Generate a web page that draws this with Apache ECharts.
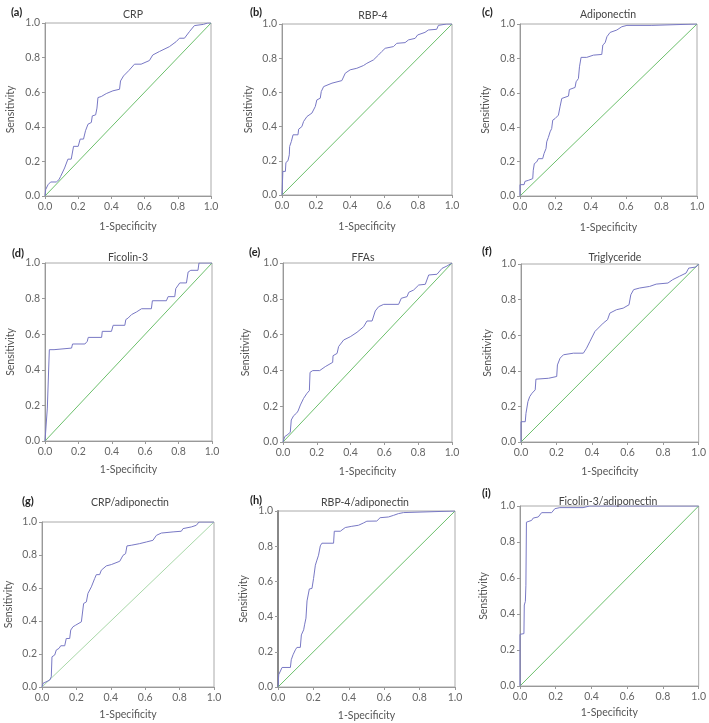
<!DOCTYPE html>
<html><head><meta charset="utf-8">
<script src="https://cdn.jsdelivr.net/npm/echarts@6/dist/echarts.min.js"></script>
<style>html,body{margin:0;padding:0;background:#fff}#c{width:709px;height:723px}</style>
</head><body><div id="c"></div>
<script>
// Panel titles and labels
const panelLabels = ['(a)','(b)','(c)','(d)','(e)','(f)','(g)','(h)','(i)'];
const panelTitles = ['CRP','RBP-4','Adiponectin','Ficolin-3','FFAs','Triglyceride','CRP/adiponectin','RBP-4/adiponectin','Ficolin-3/adiponectin'];
const axisTicks = [0.0, 0.2, 0.4, 0.6, 0.8, 1.0];
const xName = '1-Specificity';
const yName = 'Sensitivity';

// ROC curves: [1-specificity, sensitivity]
const crpCurve = [[0,0],[0.004,0.037],[0.018,0.065],[0.034,0.081],[0.068,0.081],[0.084,0.094],[0.094,0.113],[0.118,0.162],[0.138,0.213],[0.158,0.213],[0.172,0.287],[0.2,0.287],[0.212,0.329],[0.232,0.329],[0.244,0.377],[0.259,0.415],[0.279,0.425],[0.285,0.463],[0.305,0.469],[0.313,0.508],[0.319,0.569],[0.339,0.575],[0.369,0.592],[0.409,0.608],[0.449,0.617],[0.455,0.665],[0.473,0.694],[0.505,0.725],[0.539,0.762],[0.579,0.762],[0.629,0.783],[0.649,0.815],[0.689,0.835],[0.749,0.863],[0.79,0.892],[0.81,0.912],[0.84,0.912],[0.87,0.95],[0.9,0.985],[0.954,0.992],[0.98,1],[1,1]];
const rbpCurve = [[0,0],[0.005,0.0],[0.005,0.138],[0.02,0.138],[0.023,0.19],[0.035,0.2],[0.043,0.235],[0.045,0.284],[0.055,0.313],[0.065,0.352],[0.094,0.352],[0.098,0.385],[0.117,0.4],[0.127,0.43],[0.147,0.459],[0.176,0.479],[0.196,0.518],[0.205,0.556],[0.225,0.566],[0.231,0.605],[0.245,0.634],[0.254,0.638],[0.294,0.654],[0.352,0.669],[0.372,0.712],[0.401,0.732],[0.44,0.741],[0.479,0.757],[0.499,0.77],[0.538,0.79],[0.568,0.819],[0.587,0.839],[0.607,0.858],[0.656,0.868],[0.675,0.887],[0.724,0.891],[0.744,0.907],[0.783,0.916],[0.798,0.936],[0.841,0.951],[0.861,0.965],[0.91,0.969],[0.92,0.992],[0.969,1],[1,1]];
const adipoCurve = [[0,0],[0,0.066],[0.023,0.066],[0.028,0.085],[0.047,0.091],[0.053,0.101],[0.072,0.101],[0.075,0.15],[0.081,0.188],[0.094,0.198],[0.104,0.217],[0.128,0.217],[0.136,0.247],[0.147,0.276],[0.151,0.315],[0.16,0.34],[0.17,0.373],[0.179,0.392],[0.185,0.441],[0.198,0.45],[0.217,0.47],[0.226,0.518],[0.236,0.567],[0.245,0.577],[0.274,0.581],[0.279,0.619],[0.311,0.631],[0.317,0.664],[0.33,0.683],[0.336,0.751],[0.345,0.806],[0.377,0.806],[0.415,0.819],[0.462,0.823],[0.468,0.878],[0.481,0.891],[0.491,0.926],[0.509,0.951],[0.547,0.965],[0.575,0.984],[0.604,0.992],[0.745,0.992],[0.747,1],[1,1]];
const ficolinCurve = [[0,0],[0.008,0.0],[0.014,0.185],[0.02,0.185],[0.026,0.513],[0.054,0.513],[0.06,0.522],[0.159,0.522],[0.165,0.545],[0.239,0.545],[0.253,0.56],[0.259,0.582],[0.339,0.582],[0.343,0.616],[0.398,0.616],[0.408,0.65],[0.478,0.65],[0.484,0.682],[0.498,0.691],[0.518,0.71],[0.548,0.725],[0.578,0.743],[0.637,0.743],[0.643,0.788],[0.727,0.788],[0.737,0.811],[0.777,0.811],[0.783,0.856],[0.807,0.888],[0.847,0.888],[0.857,0.949],[0.873,0.959],[0.916,0.959],[0.922,1],[1,1]];
const ffaCurve = [[0,0],[0.01,0.03],[0.024,0.039],[0.034,0.048],[0.043,0.054],[0.049,0.123],[0.063,0.147],[0.079,0.16],[0.089,0.173],[0.103,0.207],[0.122,0.244],[0.142,0.272],[0.156,0.287],[0.16,0.389],[0.176,0.399],[0.217,0.399],[0.25,0.421],[0.294,0.445],[0.296,0.482],[0.32,0.495],[0.329,0.533],[0.359,0.57],[0.398,0.588],[0.438,0.613],[0.477,0.644],[0.497,0.676],[0.527,0.676],[0.546,0.732],[0.566,0.756],[0.596,0.769],[0.684,0.769],[0.7,0.803],[0.734,0.812],[0.744,0.836],[0.773,0.849],[0.803,0.877],[0.842,0.881],[0.862,0.933],[0.911,0.937],[0.941,0.97],[0.97,0.983],[1,1]];
const tgCurve = [[0,0],[0,0.114],[0.024,0.114],[0.028,0.161],[0.037,0.161],[0.039,0.227],[0.049,0.255],[0.062,0.274],[0.08,0.293],[0.084,0.353],[0.155,0.358],[0.164,0.368],[0.201,0.368],[0.205,0.433],[0.22,0.471],[0.239,0.49],[0.295,0.499],[0.351,0.499],[0.369,0.527],[0.388,0.565],[0.416,0.621],[0.435,0.64],[0.463,0.668],[0.487,0.687],[0.5,0.724],[0.537,0.743],[0.575,0.752],[0.608,0.771],[0.618,0.827],[0.634,0.856],[0.668,0.865],[0.724,0.874],[0.761,0.887],[0.827,0.893],[0.854,0.912],[0.892,0.931],[0.929,0.949],[0.944,0.977],[0.985,0.983],[1,1]];
const crpAdipoCurve = [[0,0],[0.006,0.022],[0.016,0.032],[0.045,0.042],[0.054,0.062],[0.058,0.183],[0.074,0.194],[0.083,0.224],[0.099,0.234],[0.109,0.25],[0.132,0.25],[0.141,0.294],[0.161,0.294],[0.167,0.345],[0.18,0.365],[0.196,0.375],[0.229,0.395],[0.242,0.506],[0.258,0.516],[0.267,0.567],[0.287,0.607],[0.306,0.657],[0.316,0.681],[0.335,0.681],[0.345,0.708],[0.374,0.734],[0.403,0.742],[0.452,0.762],[0.471,0.798],[0.486,0.808],[0.494,0.855],[0.519,0.859],[0.529,0.865],[0.568,0.869],[0.607,0.879],[0.645,0.889],[0.665,0.919],[0.694,0.933],[0.762,0.94],[0.81,0.944],[0.82,0.96],[0.868,0.97],[0.897,0.98],[0.913,1],[1,1]];
const rbpAdipoCurve = [[0,0],[0.004,0.07],[0.013,0.079],[0.023,0.111],[0.07,0.111],[0.075,0.155],[0.085,0.183],[0.098,0.211],[0.107,0.225],[0.126,0.225],[0.132,0.296],[0.145,0.325],[0.15,0.353],[0.158,0.391],[0.164,0.489],[0.173,0.489],[0.177,0.557],[0.192,0.56],[0.201,0.617],[0.211,0.692],[0.22,0.721],[0.229,0.749],[0.239,0.802],[0.248,0.817],[0.314,0.817],[0.318,0.885],[0.352,0.885],[0.38,0.906],[0.417,0.913],[0.455,0.919],[0.483,0.932],[0.502,0.942],[0.558,0.943],[0.577,0.962],[0.624,0.966],[0.652,0.975],[0.68,0.985],[0.709,0.991],[0.718,1],[1,1]];
const ficolinAdipoCurve = [[0,0],[0,0.287],[0.022,0.291],[0.024,0.45],[0.03,0.47],[0.033,0.56],[0.036,0.91],[0.05,0.915],[0.065,0.92],[0.074,0.933],[0.102,0.939],[0.121,0.963],[0.177,0.963],[0.195,0.985],[0.223,0.991],[0.353,0.991],[0.39,1],[1,1]];
const referenceStart = [0, 0];
const referenceEnd = [1, 1];

const curves = [crpCurve, rbpCurve, adipoCurve, ficolinCurve, ffaCurve, tgCurve, crpAdipoCurve, rbpAdipoCurve, ficolinAdipoCurve];

// Layout (pixels)
const grids = [
  {left:45, top:23, width:166, height:173},
  {left:282, top:24, width:170, height:171},
  {left:520, top:24, width:177, height:172},
  {left:45, top:263, width:167, height:178},
  {left:283, top:263, width:169, height:179},
  {left:521, top:264, width:178, height:178},
  {left:42, top:522, width:172, height:165},
  {left:278, top:511, width:177, height:176},
  {left:520, top:506, width:179, height:180}
];
const titlePos = [[128,4],[368,5],[603,4],[123,247],[358,247],[610,247],[125,492],[360,492],[603,491]];
const labelPos = [[6,2],[245,2],[477,2],[7,243],[244,242],[477,241],[17,491],[245,490],[477,483]];
const xNameGaps = [25, 26, 26, 23, 24, 24, 22, 23, 21];
const yNameGaps = [29, 28, 29, 29, 32, 28, 28, 29, 31];

const FONT = 'Lato, "Open Sans", sans-serif';
const titles = [];
const xAxes = [], yAxes = [], series = [];
grids.forEach((g, i) => {
  titles.push({text: panelTitles[i], left: titlePos[i][0], top: titlePos[i][1], textAlign: 'center',
    textStyle: {fontSize: 10.5, fontWeight: 'normal', color: '#444', fontFamily: FONT}});
  titles.push({text: panelLabels[i], left: labelPos[i][0], top: labelPos[i][1],
    textStyle: {fontSize: 11, fontWeight: 'bold', color: '#222', fontFamily: FONT}});
  const axisCommon = {
    type: 'value', min: 0, max: 1, interval: 0.2, gridIndex: i,
    nameLocation: 'middle',
    nameTextStyle: {fontSize: 10.5, color: '#555', fontFamily: FONT},
    axisLine: {show: true, lineStyle: {color: '#999', width: 1}},
    axisTick: {show: true, length: 3, lineStyle: {color: '#999'}},
    splitLine: {show: false},
    axisLabel: {fontSize: 10.5, color: '#666', fontFamily: FONT, margin: 5,
      formatter: v => axisTicks.includes(Math.round(v*10)/10) ? v.toFixed(1) : ''}
  };
  xAxes.push(Object.assign({}, axisCommon, {name: xName, nameGap: xNameGaps[i]}));
  const yAx = Object.assign({}, axisCommon, {name: yName, nameGap: yNameGaps[i], nameRotate: 90});
  if (i === 7) yAx.axisLine = {show: true, lineStyle: {color: '#888', width: 2}};
  yAxes.push(yAx);
  const diagColor = i === 6 ? '#a8d8a8' : '#6cc06c';
  series.push({type: 'line', xAxisIndex: i, yAxisIndex: i, data: curves[i].map(p => p.slice()), showSymbol: false, silent: true,
    color: '#7878c4',
    lineStyle: {color: '#7878c4', width: 1}, z: 3,
    markLine: {
      silent: true, symbol: ['none', 'none'], animation: false, z: 2,
      label: {show: false},
      lineStyle: {color: diagColor, width: 1, type: 'solid'},
      emphasis: {disabled: true},
      data: [[{coord: referenceStart.slice()}, {coord: referenceEnd.slice()}]]
    }});
});

const chart = echarts.init(document.getElementById('c'), null, {renderer: 'canvas'});
chart.setOption({
  animation: false,
  backgroundColor: '#fff',
  title: titles,
  grid: grids.map(g => Object.assign({show: true, borderColor: '#aaa', borderWidth: 1, containLabel: false}, g)),
  xAxis: xAxes,
  yAxis: yAxes,
  series: series
});
</script>
</body></html>
